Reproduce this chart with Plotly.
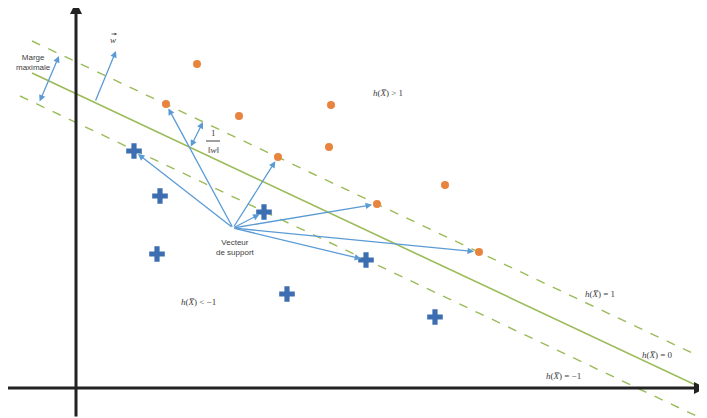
import plotly.graph_objects as go

# ---- data (diagram coordinates; y grows downward) ----
class_pos_x = [197, 166, 239, 331, 278, 329, 445, 377, 479]
class_pos_y = [64, 104, 116, 105, 157, 147, 185, 204, 252]
class_neg_x = [134, 160, 157, 264, 287, 366, 435]
class_neg_y = [151, 196, 254, 212, 294, 260, 317]

# hyperplanes h(X)=1, h(X)=0, h(X)=-1 : endpoints
plane_names = ["h=1", "h=0", "h=-1"]
plane_x = [[32, 707], [32, 702], [20, 707]]
plane_y = [[41, 360], [73, 388], [96, 421]]

# support vectors origin and their targets
sv_origin = (233, 228)
sv_target_x = [166, 134, 278, 264, 377, 366, 479]
sv_target_y = [104, 151, 157, 212, 204, 260, 252]

green = "#9bbb59"
blue_arrow = "#5b9bd5"
text_col = "#404040"

# the page body has an 8px margin; the view window compensates for it
OFF = 8

fig = go.Figure()

# axes (drawn as lines)
fig.add_annotation(x=76, y=2, ax=76, ay=418, xref="x", yref="y", axref="x", ayref="y",
                   showarrow=True, arrowhead=2, arrowsize=0.8, arrowwidth=3, arrowcolor="#222222", text="")
fig.add_annotation(x=706, y=388, ax=0, ay=388, xref="x", yref="y", axref="x", ayref="y",
                   showarrow=True, arrowhead=2, arrowsize=0.8, arrowwidth=3, arrowcolor="#222222", text="")

# hyperplanes
for name, xs, ys in zip(plane_names, plane_x, plane_y):
    fig.add_trace(go.Scatter(x=xs, y=ys, mode="lines", name=name,
                             line=dict(color=green, width=1.6 if name == "h=0" else 1.4,
                                       dash="solid" if name == "h=0" else "dash"),
                             hoverinfo="skip"))

# support vector arrows
for tx, ty in zip(sv_target_x, sv_target_y):
    fig.add_annotation(x=tx, y=ty, ax=sv_origin[0], ay=sv_origin[1], xref="x", yref="y",
                       axref="x", ayref="y", showarrow=True, arrowhead=2, arrowsize=1,
                       arrowwidth=1.3, arrowcolor=blue_arrow, standoff=5, text="")

# points
fig.add_trace(go.Scatter(x=class_pos_x, y=class_pos_y, mode="markers", name="+1",
                         marker=dict(symbol="circle", size=8, color="#e9843e",
                                     line=dict(width=0))))
fig.add_trace(go.Scatter(x=class_neg_x, y=class_neg_y, mode="markers", name="-1",
                         marker=dict(symbol="cross", size=13, color="#3e6eb2",
                                     line=dict(width=0))))

# margin double arrow
fig.add_annotation(x=59, y=56, ax=39, ay=103, xref="x", yref="y", axref="x", ayref="y",
                   showarrow=True, arrowhead=2, startarrowhead=2, arrowside="end+start",
                   arrowsize=1, arrowwidth=1.3, arrowcolor=blue_arrow, text="")
# w arrow
fig.add_annotation(x=116, y=51, ax=95, ay=102, xref="x", yref="y", axref="x", ayref="y",
                   showarrow=True, arrowhead=2, arrowsize=1, arrowwidth=1.3,
                   arrowcolor=blue_arrow, text="")
# 1/||w|| arrow
fig.add_annotation(x=203, y=122, ax=190, ay=148, xref="x", yref="y", axref="x", ayref="y",
                   showarrow=True, arrowhead=2, startarrowhead=2, arrowside="end+start",
                   arrowsize=1, arrowwidth=1.3, arrowcolor=blue_arrow, text="")

serif = dict(family="Liberation Serif", size=9, color=text_col)
sans = dict(family="Liberation Sans", size=8, color=text_col)

labels = [
    (113, 40, "<i>w</i>", serif),
    (33, 62, "Marge<br>maximale", sans),
    (235, 247, "Vecteur<br>de support", sans),
    (388, 93, "<i>h</i>(<i>X\u0305</i>) > 1", serif),
    (198, 302, "<i>h</i>(<i>X\u0305</i>) < \u22121", serif),
    (600, 294, "<i>h</i>(<i>X\u0305</i>) = 1", serif),
    (657, 355, "<i>h</i>(<i>X\u0305</i>) = 0", serif),
    (563, 376, "<i>h</i>(<i>X\u0305</i>) = \u22121", serif),
    (213, 133, "1", serif),
    (213, 150, "\u2016<i>w</i>\u2016", serif),
]
for x, y, t, f in labels:
    fig.add_annotation(x=x, y=y, xref="x", yref="y", text=t, showarrow=False, font=f)

# small vector arrow above the w label
fig.add_annotation(x=117, y=34, ax=110, ay=34, xref="x", yref="y", axref="x", ayref="y",
                   showarrow=True, arrowhead=2, arrowsize=0.6, arrowwidth=0.8,
                   arrowcolor=text_col, text="")

# fraction bar
fig.add_shape(type="line", x0=206, x1=220, y0=141, y1=141, xref="x", yref="y",
              line=dict(color=text_col, width=1))

fig.update_layout(
    width=707, height=418, margin=dict(l=0, r=0, t=0, b=0),
    paper_bgcolor="white", plot_bgcolor="white", showlegend=False,
    xaxis=dict(range=[OFF, 707 + OFF], visible=False, fixedrange=True),
    yaxis=dict(range=[418 + OFF, OFF], visible=False, fixedrange=True),
)
fig.write_html("out.html")
